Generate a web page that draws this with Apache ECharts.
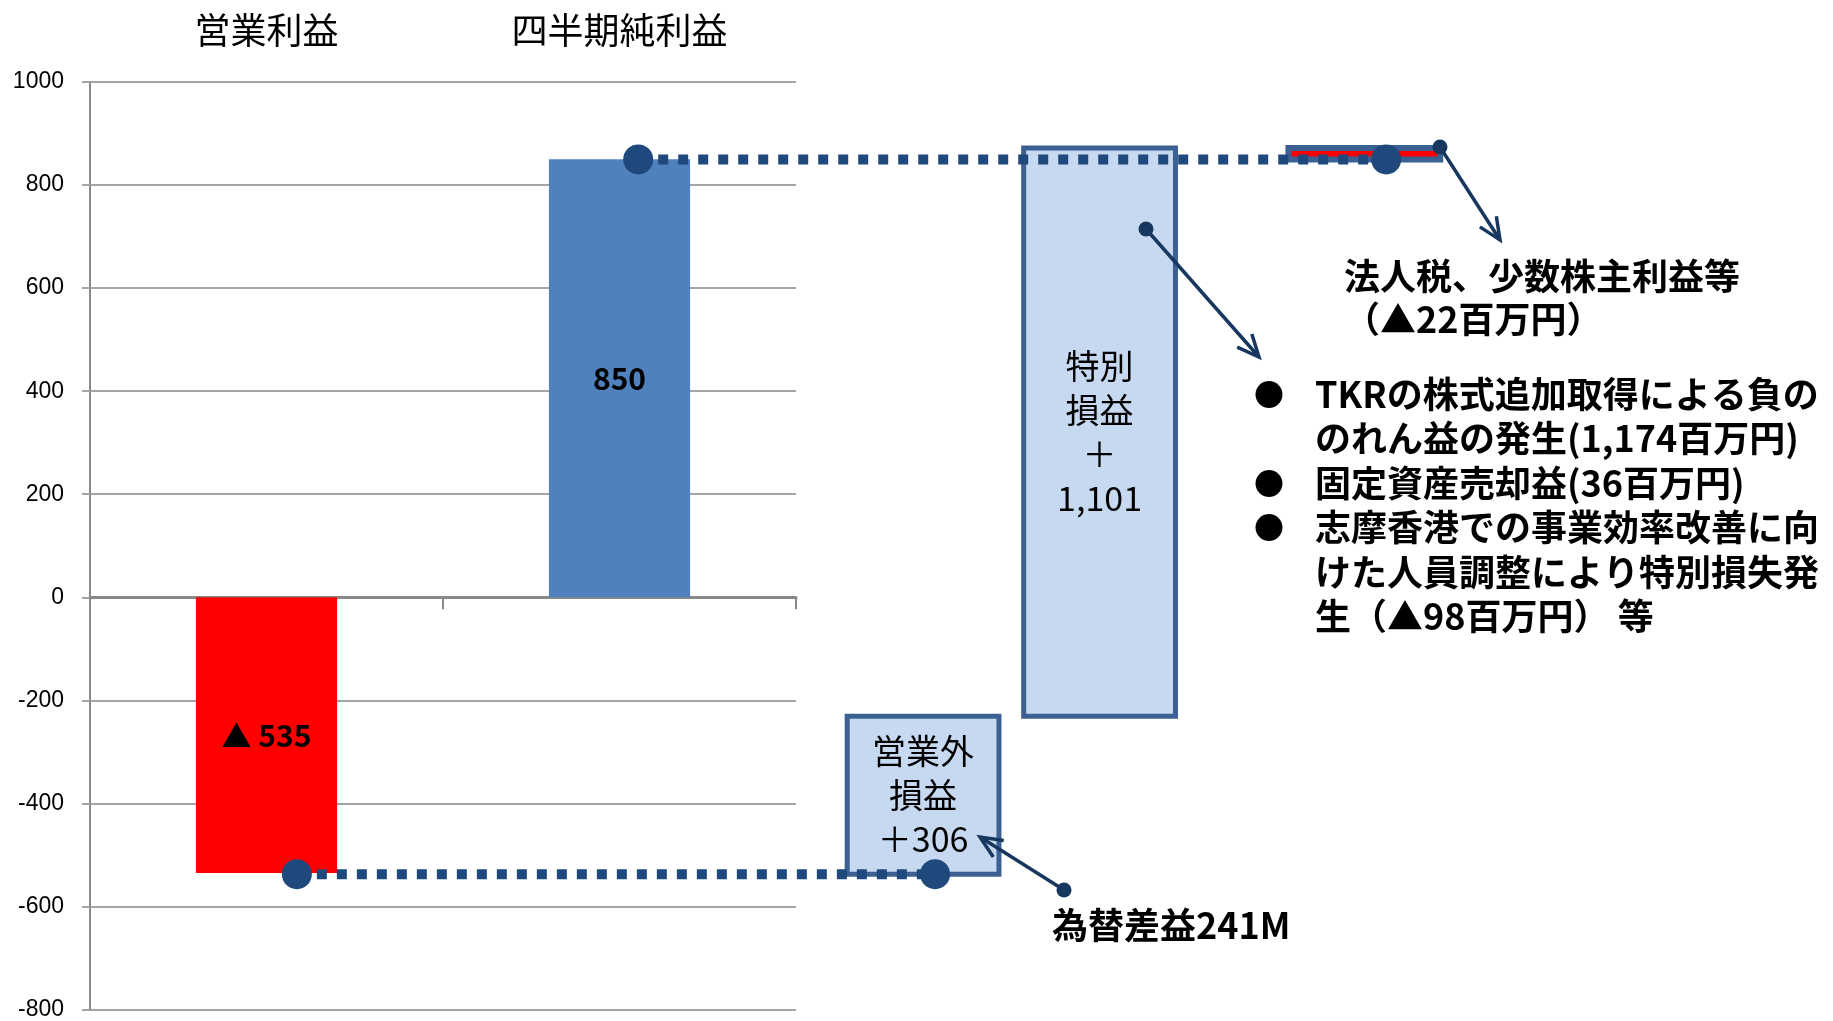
<!DOCTYPE html>
<html><head><meta charset="utf-8">
<script src="https://cdn.jsdelivr.net/npm/echarts@6/dist/echarts.min.js"></script>
<style>html,body{margin:0;padding:0;background:#fff}#c{width:1833px;height:1021px}</style>
</head><body><div id="c"></div>
<script>
// ---- data ----
const categories = ['営業利益', '四半期純利益'];
const mainValues = [-535, 850];
const stepNames = ['営業外\n損益', '特別\n損益', '法人税、少数株主利益等'];
const stepValues = [306, 1101, -22];
const yTickMin = -800, yTickMax = 1000, yTickStep = 200;

// ---- layout / style config ----
const FONT = '"Noto Sans CJK JP", "Noto Sans", sans-serif';
const NAVY = '#1F497D';
const ARROW = '#17375E';
const stepCenters = [2.36, 2.86, 3.61];   // in category-width units of the main grid
const boxWidth = 0.43;
const stepLabelSep = ['\n＋', '\n＋\n', null];
const startLineX = [0.586, 2.394];
const endLineX = [1.553, 3.672];

function fmt(v) { return Math.abs(v).toLocaleString('en-US'); }

// build floating boxes from cumulative values
const boxData = [];
let base = mainValues[0];
stepValues.forEach((v, i) => {
  const lo = Math.min(base, base + v), hi = Math.max(base, base + v);
  boxData.push([stepCenters[i], lo, hi, v]);
  base += v;
});
const boxLabels = stepValues.map((v, i) => stepLabelSep[i] === null ? '' : stepNames[i] + stepLabelSep[i] + fmt(v));

const chart = echarts.init(document.getElementById('c'));

function arrow(from, to) {
  const dx = to[0] - from[0], dy = to[1] - from[1];
  const L = Math.hypot(dx, dy), ux = dx / L, uy = dy / L;
  const h = 24, a = 0.42, c = Math.cos(a), s = Math.sin(a);
  const p1 = [to[0] - h * (ux * c - uy * s), to[1] - h * (uy * c + ux * s)];
  const p2 = [to[0] - h * (ux * c + uy * s), to[1] - h * (uy * c - ux * s)];
  return [
    { type: 'line', z: 100, shape: { x1: from[0], y1: from[1], x2: to[0], y2: to[1] }, style: { stroke: ARROW, lineWidth: 3.5 } },
    { type: 'polyline', z: 100, shape: { points: [p1, to, p2] }, style: { stroke: ARROW, lineWidth: 3.5, fill: null } },
    { type: 'circle', z: 100, shape: { cx: from[0], cy: from[1], r: 7.5 }, style: { fill: ARROW } }
  ];
}

const bulletLines = [
  'TKRの株式追加取得による負の',
  'のれん益の発生(1,174百万円)',
  '固定資産売却益(36百万円)',
  '志摩香港での事業効率改善に向',
  'けた人員調整により特別損失発',
  '生（▲98百万円） 等'
];

const graphic = [].concat(
  arrow([1440, 147], [1500, 240]),
  arrow([1146, 229], [1259, 357]),
  arrow([1064, 890], [980, 837]),
  [
    { type: 'text', z: 100, left: 1344, top: 255, style: { text: '法人税、少数株主利益等\n（▲22百万円）', font: 'bold 36px ' + FONT, fill: '#000', lineHeight: 43 } },
    { type: 'text', z: 100, left: 1254, top: 372, style: { text: '●\n\n●\n●', font: 'bold 30px ' + FONT, fill: '#000', lineHeight: 44.5 } },
    { type: 'text', z: 100, left: 1315, top: 372, style: { text: bulletLines.join('\n'), font: 'bold 36px ' + FONT, fill: '#000', lineHeight: 44.5 } },
    { type: 'text', z: 100, left: 1052, top: 907, style: { text: '為替差益241M', font: 'bold 36px ' + FONT, fill: '#000' } }
  ]
);

const option = {
  animation: false,
  backgroundColor: '#fff',
  grid: [
    { left: 90, top: 82, width: 706, height: 929 },
    { left: 90, top: 82, width: 1412, height: 929 }
  ],
  xAxis: [
    { type: 'category', gridIndex: 0, data: categories, position: 'bottom',
      axisLine: { onZero: true, lineStyle: { color: '#898989', width: 3 } },
      axisTick: { show: true, length: 12, lineStyle: { color: '#898989', width: 2 } },
      axisLabel: { show: false }, splitLine: { show: false } },
    { type: 'category', gridIndex: 0, data: categories, position: 'top',
      axisLine: { show: false, onZero: false }, axisTick: { show: false },
      axisLabel: { show: true, margin: 34, fontSize: 36, color: '#000', fontFamily: FONT } },
    { type: 'value', gridIndex: 1, min: 0, max: 4, show: false }
  ],
  yAxis: [
    { type: 'value', gridIndex: 0, min: yTickMin, max: yTickMax, interval: yTickStep,
      axisLine: { show: true, lineStyle: { color: '#898989', width: 2 } },
      axisTick: { show: true, length: 8, lineStyle: { color: '#A5A5A5', width: 2 } },
      axisLabel: { fontSize: 23, color: '#000', fontFamily: '"Liberation Sans", sans-serif', margin: 26,
        formatter: v => String(v) },
      splitLine: { lineStyle: { color: '#A5A5A5', width: 2 } } },
    { type: 'value', gridIndex: 1, min: yTickMin, max: yTickMax, show: false, splitLine: { show: false } }
  ],
  series: [
    { type: 'bar', xAxisIndex: 0, yAxisIndex: 0, barWidth: '40%',
      data: mainValues.map(v => ({ value: v, itemStyle: { color: v < 0 ? '#FF0000' : '#4F81BD' } })),
      label: { show: true, position: 'inside', fontSize: 30, fontWeight: 'bold', color: '#000', fontFamily: FONT,
        formatter: p => p.value < 0 ? '▲ ' + fmt(p.value) : fmt(p.value) } },
    { type: 'custom', xAxisIndex: 2, yAxisIndex: 1, data: boxData, z: 3,
      encode: { x: 0, y: [1, 2] },
      renderItem: function (params, api) {
        const xc = api.value(0), lo = api.value(1), hi = api.value(2), v = api.value(3);
        const a = api.coord([xc - boxWidth / 2, hi]);
        const b = api.coord([xc + boxWidth / 2, lo]);
        const el = { type: 'rect',
          shape: { x: a[0], y: a[1], width: b[0] - a[0], height: b[1] - a[1] },
          style: { fill: v >= 0 ? '#C6D9F1' : '#FF0000', stroke: '#3B6193', lineWidth: v >= 0 ? 5 : 6 } };
        const t = boxLabels[params.dataIndex];
        if (t) {
          el.textContent = { style: { text: t, font: '34px ' + FONT, fill: '#000', align: 'center', verticalAlign: 'middle', lineHeight: 44 } };
          el.textConfig = { position: 'inside' };
        }
        return el;
      } },
    { type: 'line', xAxisIndex: 2, yAxisIndex: 1, z: 6, symbol: 'circle', symbolSize: 30,
      data: startLineX.map(x => [x, mainValues[0]]),
      lineStyle: { color: NAVY, width: 10, type: [10, 10] }, itemStyle: { color: NAVY } },
    { type: 'line', xAxisIndex: 2, yAxisIndex: 1, z: 6, symbol: 'circle', symbolSize: 30,
      data: endLineX.map(x => [x, mainValues[1]]),
      lineStyle: { color: NAVY, width: 10, type: [10, 10] }, itemStyle: { color: NAVY } }
  ],
  graphic: graphic
};
chart.setOption(option);
</script></body></html>
